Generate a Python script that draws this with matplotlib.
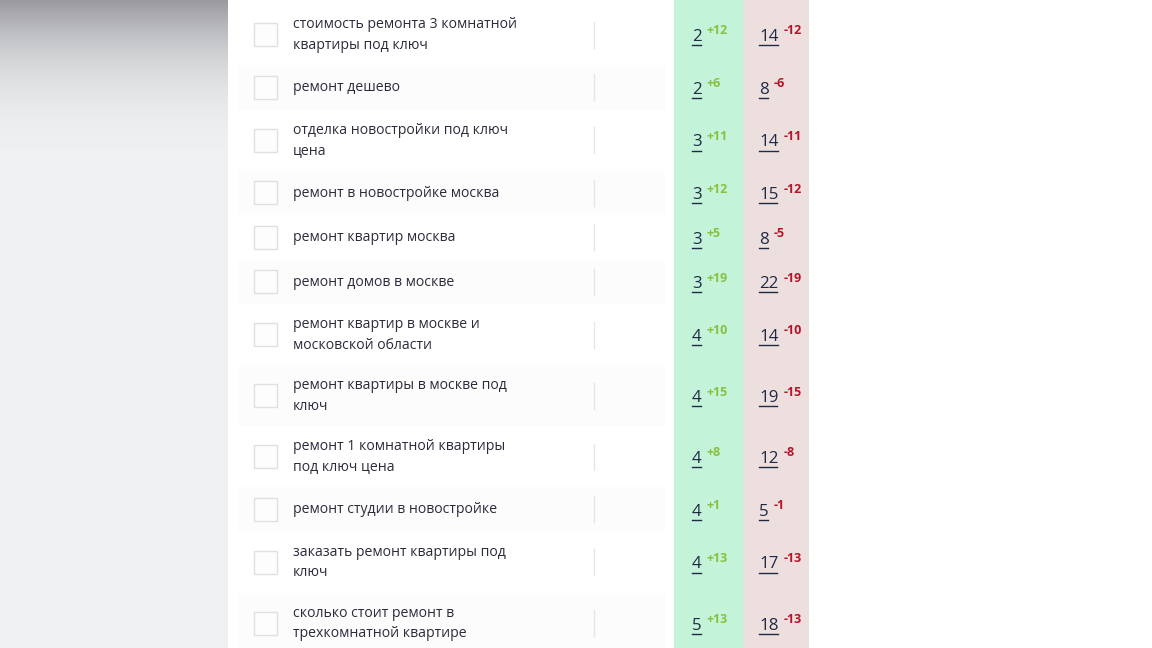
import numpy as np
import matplotlib
matplotlib.use("Agg")
import matplotlib.pyplot as plt
from matplotlib.patches import Rectangle

# table contents
keywords = [
    "стоимость ремонта 3 комнатной\nквартиры под ключ",
    "ремонт дешево",
    "отделка новостройки под ключ\nцена",
    "ремонт в новостройке москва",
    "ремонт квартир москва",
    "ремонт домов в москве",
    "ремонт квартир в москве и\nмосковской области",
    "ремонт квартиры в москве под\nключ",
    "ремонт 1 комнатной квартиры\nпод ключ цена",
    "ремонт студии в новостройке",
    "заказать ремонт квартиры под\nключ",
    "сколько стоит ремонт в\nтрехкомнатной квартире",
]
new_pos = [2, 2, 3, 3, 3, 3, 4, 4, 4, 4, 4, 5]
old_pos = [14, 8, 14, 15, 8, 22, 14, 19, 12, 5, 17, 18]
gain = ["+12", "+6", "+11", "+12", "+5", "+19", "+10", "+15", "+8", "+1", "+13", "+13"]
loss = ["-12", "-6", "-11", "-12", "-5", "-19", "-10", "-15", "-8", "-1", "-13", "-13"]

W, H = 1152, 648
TEXT = "#2b2b3c"
NUM = "#1f2a44"
plt.rcParams["font.family"] = ["Open Sans", "DejaVu Sans"]

fig = plt.figure(figsize=(W / 100, H / 100), dpi=100)
ax = fig.add_axes([0, 0, 1, 1])
ax.set_xlim(0, W)
ax.set_ylim(H, 0)
ax.axis("off")

# grey page background, darker at the top edge
shade = 1 - (1 - np.clip(np.arange(H) / 190.0, 0, 1)) ** 3
bg = np.zeros((H, 1, 3))
top = np.array([0.60, 0.60, 0.62])
bottom = np.array([0.937, 0.945, 0.949])
for i in range(H):
    bg[i, 0] = top + (bottom - top) * shade[i]
ax.imshow(bg, extent=[0, 228, H, 0], aspect="auto", zorder=0)
ax.set_xlim(0, W)
ax.set_ylim(H, 0)

ax.add_patch(Rectangle((674, 0), 69, H, fc="#c3f3d9", ec="none", zorder=1))
ax.add_patch(Rectangle((743, 0), 66, H, fc="#eedfdf", ec="none", zorder=1))

fig.canvas.draw()
rend = fig.canvas.get_renderer()


def number(x, y, value, delta, color):
    t = ax.text(x, y, str(value), fontsize=12.2, color=NUM, ha="left", va="center", zorder=3)
    box = t.get_window_extent(rend)
    ax.plot([box.x0, box.x1 - 1], [y + 8, y + 8], color=NUM, lw=1, zorder=3)
    ax.text(box.x1 + 5, y - 6, delta, fontsize=9, fontweight="bold", color=color,
            ha="left", va="center", zorder=3)


y = 4
for i, kw in enumerate(keywords):
    h = 61 if "\n" in kw else 44.5
    c = y + h / 2
    if i % 2 == 1:
        ax.add_patch(Rectangle((238, y), 427, h, fc="#fcfcfc", ec="none", zorder=1))
    ax.add_patch(Rectangle((254, c - 11.5), 23, 23, fc="#fdfdfd", ec="#e0e0e0", lw=1, zorder=2))
    ax.plot([594, 594], [c - 13, c + 13], color="#e6e6e6", lw=1, zorder=2)
    ax.text(293, c + 0.5, kw, fontsize=10.05, color=TEXT, ha="left", va="center",
            linespacing=1.47, zorder=3)
    number(692, c + 2.5, new_pos[i], gain[i], "#8ac03f")
    number(759, c + 2.5, old_pos[i], loss[i], "#b5152b")
    y += h

fig.savefig("out.png", dpi=100)
